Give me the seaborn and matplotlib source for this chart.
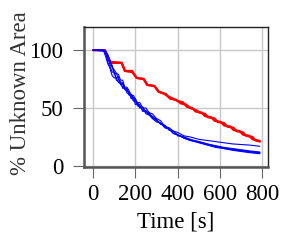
import pandas as pd
import matplotlib
matplotlib.use("Agg")
import matplotlib.pyplot as plt
import seaborn as sns

# Blue runs (fast exploration), times in seconds
blue_t = [0, 50, 60, 70, 80, 90, 100, 110, 120, 130, 140, 150, 160, 170, 180, 190,
          200, 210, 220, 235, 250, 265, 280, 300, 320, 340, 360, 380, 400, 430,
          460, 500, 540, 580, 620, 660, 700, 740, 790]
blue_a = [100, 100, 99, 96, 91, 85, 83, 80, 79, 74, 74, 68, 68, 65, 61, 61,
          58, 54, 55, 50, 50, 46, 45, 41, 39, 34, 33, 30, 29, 26,
          25, 23, 22, 21, 20, 19, 18.5, 18, 17]
blue_b = [100, 100, 97, 89, 84, 78, 76, 76, 72, 71, 68, 68, 63, 62, 61, 56,
          56, 55, 50, 51, 46, 45, 42, 40, 36, 35, 31, 30, 27, 25,
          23, 21, 19, 17.5, 16, 15, 14, 13, 12]
blue_c = [100, 100, 98, 94, 87, 86, 80, 76, 77, 70, 71, 66, 67, 61, 62, 59,
          53, 54, 52, 48, 47, 46, 42, 39, 37, 33, 32, 28, 27, 24,
          22, 20, 18, 16, 15, 14, 13, 12, 11]
blue_d = [100, 99, 94, 88, 86, 81, 81, 74, 73, 73, 67, 67, 65, 64, 58, 59,
          56, 52, 53, 47, 48, 44, 43, 40, 36, 35, 31, 30, 26, 25,
          22.5, 20.5, 18.5, 17, 15.5, 14.5, 13.5, 12.5, 11.5]
blue_e = [100, 100, 98, 93, 89, 87, 79, 80, 75, 71, 72, 66, 65, 64, 60, 58,
          58, 52, 51, 50, 45, 44, 41, 38, 37, 33, 32, 28, 27, 24,
          22, 21, 19, 17, 15, 13.5, 12.5, 11.5, 10.5]

# Red runs (slow exploration), staircase shaped
red_t1 = [0, 55, 80, 135, 150, 185, 205, 240, 255, 290, 310, 345, 365, 395, 415, 440,
          460, 490, 505, 530, 545, 575, 590, 620, 635, 665, 680, 710, 725, 755, 770, 790]
red_1 = [100, 100, 90, 89, 82, 82, 76, 75, 70, 69, 64, 62, 58, 57, 54, 53,
         50, 48, 46, 45, 42, 41, 38, 37, 34, 33, 30, 29, 26, 25, 22, 21]
red_t2 = [0, 55, 82, 135, 152, 185, 207, 240, 257, 290, 312, 330, 355, 380, 400, 425,
          445, 470, 485, 515, 530, 560, 575, 605, 620, 650, 665, 695, 710, 740, 755, 790]
red_2 = [100, 100, 89, 89, 82, 81, 76, 75, 70, 69, 64, 63, 60, 58, 56, 55,
         51, 50, 47, 46, 43, 42, 39, 38, 35, 34, 31, 30, 27, 26, 23, 21.5]

rows = []
for name, run in zip("abcde", [blue_a, blue_b, blue_c, blue_d, blue_e]):
    for t, v in zip(blue_t, run):
        rows.append({"time": t, "area": v, "method": "blue", "run": "b" + name})
for name, ts, run in [("r1", red_t1, red_1), ("r2", red_t2, red_2)]:
    for t, v in zip(ts, run):
        rows.append({"time": t, "area": v, "method": "red", "run": name})
df = pd.DataFrame(rows)

sns.set_theme(style="whitegrid")
plt.rcParams["font.family"] = ["Liberation Serif", "DejaVu Serif"]

fig = plt.figure(figsize=(2.89, 2.52), dpi=100)
ax = fig.add_axes([0.291, 0.337, 0.636, 0.556])

sns.lineplot(data=df[df["method"] == "red"], x="time", y="area", units="run",
             estimator=None, color="red", linewidth=1.6, ax=ax)
sns.lineplot(data=df[df["method"] == "blue"], x="time", y="area", units="run",
             estimator=None, color="blue", linewidth=0.8, ax=ax)

ax.set_xlim(-43, 828)
ax.set_ylim(-1, 120)
ax.set_xticks([0, 200, 400, 600, 800])
ax.set_yticks([0, 50, 100])
ax.grid(True, color="#c8c8c8", linewidth=1)
ax.set_facecolor("white")
for side in ["top", "right"]:
    ax.spines[side].set_color("#222222")
    ax.spines[side].set_linewidth(1.0)
for side in ["left", "bottom"]:
    ax.spines[side].set_color("#555555")
    ax.spines[side].set_linewidth(1.8)
ax.tick_params(axis="both", direction="out", length=8, width=0.8, color="#666666",
               labelsize=16.5, labelcolor="black", bottom=True, left=True)
ax.tick_params(axis="x", pad=4)
ax.tick_params(axis="y", pad=7)
ax.set_xlabel("Time [s]", fontsize=16.5, color="black", labelpad=5)
ax.set_ylabel("% Unknown Area", fontsize=16.5, color="#333333")
ax.yaxis.set_label_coords(-0.29, 0.53)

fig.savefig("out.png", dpi=100)
